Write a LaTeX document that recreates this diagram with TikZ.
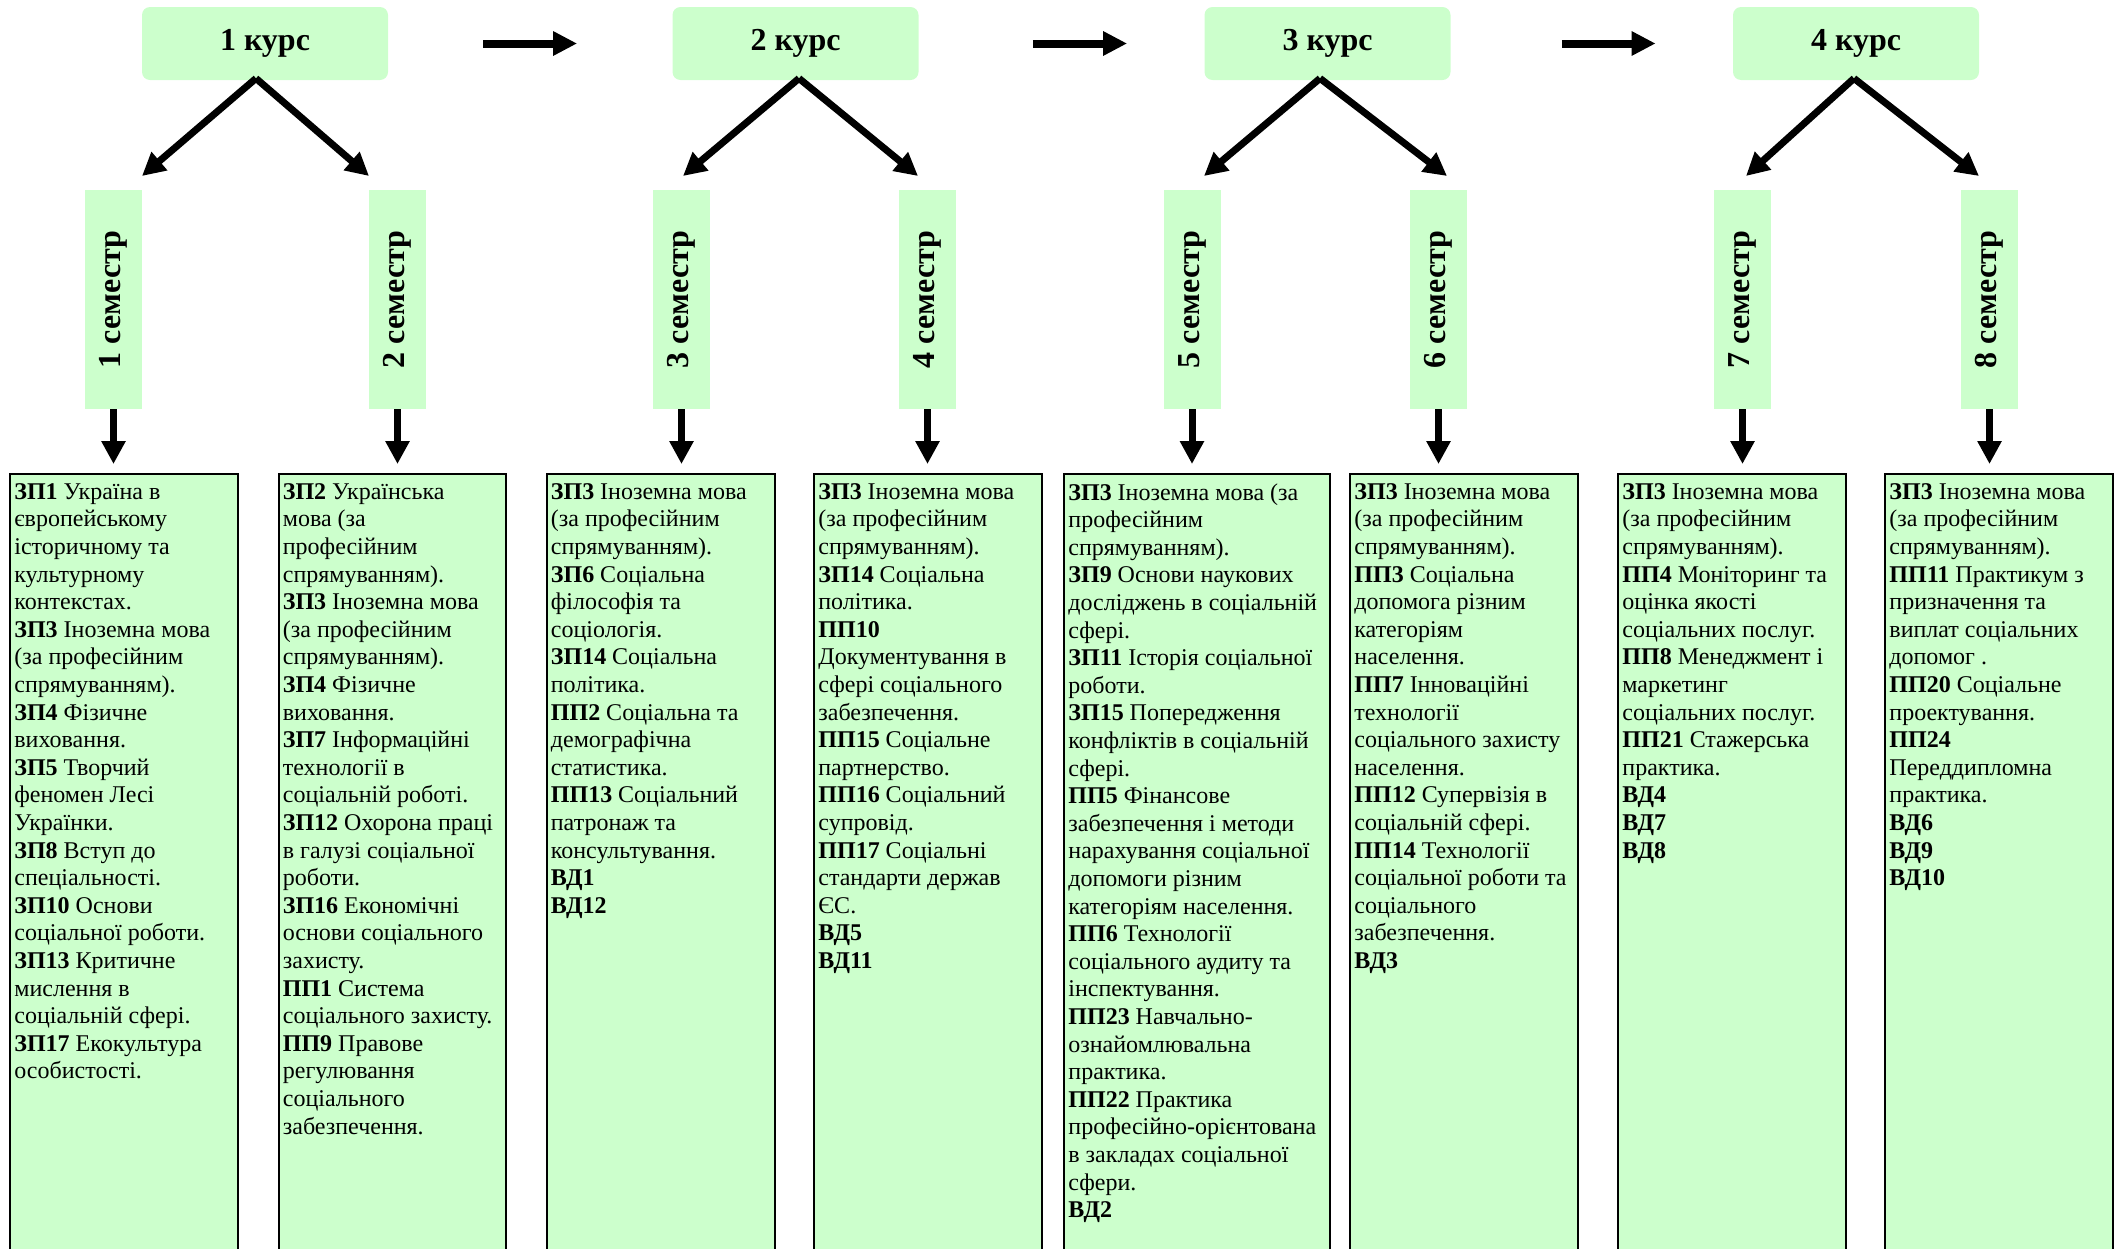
\documentclass[tikz,border=0pt]{standalone}
\usepackage{fontspec}
\setmainfont{Liberation Serif}
\usetikzlibrary{arrows.meta}
\definecolor{lg}{RGB}{204,255,204}
\begin{document}
\begin{tikzpicture}[x=0.5pt,y=-0.5pt,
 course/.style={fill=lg, rounded corners=4pt, minimum width=123pt, minimum height=36.5pt, inner sep=0pt, font=\bfseries\fontsize{16}{19}\selectfont},
 semb/.style={fill=lg, minimum width=28.5pt, minimum height=109.5pt, inner sep=0pt, font=\bfseries\fontsize{16}{19}\selectfont},
 cbox/.style={draw=black, line width=1pt, fill=lg, anchor=north west, minimum height=420pt, inner sep=0pt},
 ctext/.style={anchor=north west, align=left, inner xsep=2.5pt, inner ysep=5pt, font=\fontsize{12}{13.8}\selectfont},
 arr/.style={line width=3.5pt, -{Triangle[length=11.5pt,width=11.5pt]}},
 harr/.style={line width=4pt, -{Triangle[length=12pt,width=11.5pt]}}
]
\useasboundingbox (0,0) rectangle (2120,1248);
\clip (0,0) rectangle (2120,1248);

% courses
\node[course] (k1) at (265,43.5) {1 курс};
\node[course] (k2) at (795.5,43.5) {2 курс};
\node[course] (k3) at (1327.5,43.5) {3 курс};
\node[course] (k4) at (1856,43.5) {4 курс};

% course arrows
\draw[harr, shorten <=47.5pt, shorten >=47.5pt] (k1.east) -- (k2.west);
\draw[harr, shorten <=57pt, shorten >=38.5pt] (k2.east) -- (k3.west);
\draw[harr, shorten <=55.5pt, shorten >=38.5pt] (k3.east) -- (k4.west);

% semesters
\node[semb] (s1) at (113.5,299.5) {\rotatebox{90}{1 семестр}};
\node[semb] (s2) at (397.5,299.5) {\rotatebox{90}{2 семестр}};
\node[semb] (s3) at (681.5,299.5) {\rotatebox{90}{3 семестр}};
\node[semb] (s4) at (927.5,299.5) {\rotatebox{90}{4 семестр}};
\node[semb] (s5) at (1192,299.5) {\rotatebox{90}{5 семестр}};
\node[semb] (s6) at (1438.5,299.5) {\rotatebox{90}{6 семестр}};
\node[semb] (s7) at (1742.5,299.5) {\rotatebox{90}{7 семестр}};
\node[semb] (s8) at (1989.5,299.5) {\rotatebox{90}{8 семестр}};

% arrow tips above semesters
\coordinate (e1) at (142,176);
\coordinate (e2) at (369,176);
\coordinate (e3) at (683,176);
\coordinate (e4) at (918,176);
\coordinate (e5) at (1204,176);
\coordinate (e6) at (1447,176);
\coordinate (e7) at (1746,176);
\coordinate (e8) at (1979,176);

\draw[arr] ([xshift=-4.5pt,yshift=1pt]k1.south) -- (e1);
\draw[arr] ([xshift=-4.5pt,yshift=1pt]k1.south) -- (e2);
\draw[arr] ([xshift=1.75pt,yshift=1pt]k2.south) -- (e3);
\draw[arr] ([xshift=1.75pt,yshift=1pt]k2.south) -- (e4);
\draw[arr] ([xshift=-3.75pt,yshift=1pt]k3.south) -- (e5);
\draw[arr] ([xshift=-3.75pt,yshift=1pt]k3.south) -- (e6);
\draw[arr] ([xshift=-1pt,yshift=1pt]k4.south) -- (e7);
\draw[arr] ([xshift=-1pt,yshift=1pt]k4.south) -- (e8);

% content boxes
\node[cbox, minimum width=114pt] (b1) at (9,473) {};
\node[cbox, minimum width=113.75pt] (b2) at (277.5,473) {};
\node[cbox, minimum width=114pt] (b3) at (545.5,473) {};
\node[cbox, minimum width=114pt] (b4) at (813,473) {};
\node[cbox, minimum width=133pt] (b5) at (1063,473) {};
\node[cbox, minimum width=114pt] (b6) at (1349,473) {};
\node[cbox, minimum width=114pt] (b7) at (1617,473) {};
\node[cbox, minimum width=114pt] (b8) at (1884,473) {};

% down arrows
\foreach \i in {1,...,8}{
  \draw[arr, shorten >=4.5pt] (s\i.south) -- (s\i.south |- b\i.north);
}

% texts
\node[ctext] (t1) at (b1.north west) {\textbf{ЗП1} Україна в\\
європейському\\
історичному та\\
культурному\\
контекстах.\\
\textbf{ЗП3} Іноземна мова\\
(за професійним\\
спрямуванням).\\
\textbf{ЗП4} Фізичне\\
виховання.\\
\textbf{ЗП5} Творчий\\
феномен Лесі\\
Українки.\\
\textbf{ЗП8} Вступ до\\
спеціальності.\\
\textbf{ЗП10} Основи\\
соціальної роботи.\\
\textbf{ЗП13} Критичне\\
мислення в\\
соціальній сфері.\\
\textbf{ЗП17} Екокультура\\
особистості.};

\node[ctext] (t2) at (b2.north west) {\textbf{ЗП2} Українська\\
мова (за\\
професійним\\
спрямуванням).\\
\textbf{ЗП3} Іноземна мова\\
(за професійним\\
спрямуванням).\\
\textbf{ЗП4} Фізичне\\
виховання.\\
\textbf{ЗП7} Інформаційні\\
технології в\\
соціальній роботі.\\
\textbf{ЗП12} Охорона праці\\
в галузі соціальної\\
роботи.\\
\textbf{ЗП16} Економічні\\
основи соціального\\
захисту.\\
\textbf{ПП1} Система\\
соціального захисту.\\
\textbf{ПП9} Правове\\
регулювання\\
соціального\\
забезпечення.};

\node[ctext] (t3) at (b3.north west) {\textbf{ЗП3} Іноземна мова\\
(за професійним\\
спрямуванням).\\
\textbf{ЗП6} Соціальна\\
філософія та\\
соціологія.\\
\textbf{ЗП14} Соціальна\\
політика.\\
\textbf{ПП2} Соціальна та\\
демографічна\\
статистика.\\
\textbf{ПП13} Соціальний\\
патронаж та\\
консультування.\\
\textbf{ВД1}\\
\textbf{ВД12}};

\node[ctext] (t4) at (b4.north west) {\textbf{ЗП3} Іноземна мова\\
(за професійним\\
спрямуванням).\\
\textbf{ЗП14} Соціальна\\
політика.\\
\textbf{ПП10}\\
Документування в\\
сфері соціального\\
забезпечення.\\
\textbf{ПП15} Соціальне\\
партнерство.\\
\textbf{ПП16} Соціальний\\
супровід.\\
\textbf{ПП17} Соціальні\\
стандарти держав\\
ЄС.\\
\textbf{ВД5}\\
\textbf{ВД11}};

\node[ctext] (t5) at (b5.north west) {\textbf{ЗП3} Іноземна мова (за\\
професійним\\
спрямуванням).\\
\textbf{ЗП9} Основи наукових\\
досліджень в соціальній\\
сфері.\\
\textbf{ЗП11} Історія соціальної\\
роботи.\\
\textbf{ЗП15} Попередження\\
конфліктів в соціальній\\
сфері.\\
\textbf{ПП5} Фінансове\\
забезпечення і методи\\
нарахування соціальної\\
допомоги різним\\
категоріям населення.\\
\textbf{ПП6} Технології\\
соціального аудиту та\\
інспектування.\\
\textbf{ПП23} Навчально-\\
ознайомлювальна\\
практика.\\
\textbf{ПП22} Практика\\
професійно-орієнтована\\
в закладах соціальної\\
сфери.\\
\textbf{ВД2}};

\node[ctext] (t6) at (b6.north west) {\textbf{ЗП3} Іноземна мова\\
(за професійним\\
спрямуванням).\\
\textbf{ПП3} Соціальна\\
допомога різним\\
категоріям\\
населення.\\
\textbf{ПП7} Інноваційні\\
технології\\
соціального захисту\\
населення.\\
\textbf{ПП12} Супервізія в\\
соціальній сфері.\\
\textbf{ПП14} Технології\\
соціальної роботи та\\
соціального\\
забезпечення.\\
\textbf{ВД3}};

\node[ctext] (t7) at (b7.north west) {\textbf{ЗП3} Іноземна мова\\
(за професійним\\
спрямуванням).\\
\textbf{ПП4} Моніторинг та\\
оцінка якості\\
соціальних послуг.\\
\textbf{ПП8} Менеджмент і\\
маркетинг\\
соціальних послуг.\\
\textbf{ПП21} Стажерська\\
практика.\\
\textbf{ВД4}\\
\textbf{ВД7}\\
\textbf{ВД8}};

\node[ctext] (t8) at (b8.north west) {\textbf{ЗП3} Іноземна мова\\
(за професійним\\
спрямуванням).\\
\textbf{ПП11} Практикум з\\
призначення та\\
виплат соціальних\\
допомог .\\
\textbf{ПП20} Соціальне\\
проектування.\\
\textbf{ПП24}\\
Переддипломна\\
практика.\\
\textbf{ВД6}\\
\textbf{ВД9}\\
\textbf{ВД10}};
\end{tikzpicture}
\end{document}
